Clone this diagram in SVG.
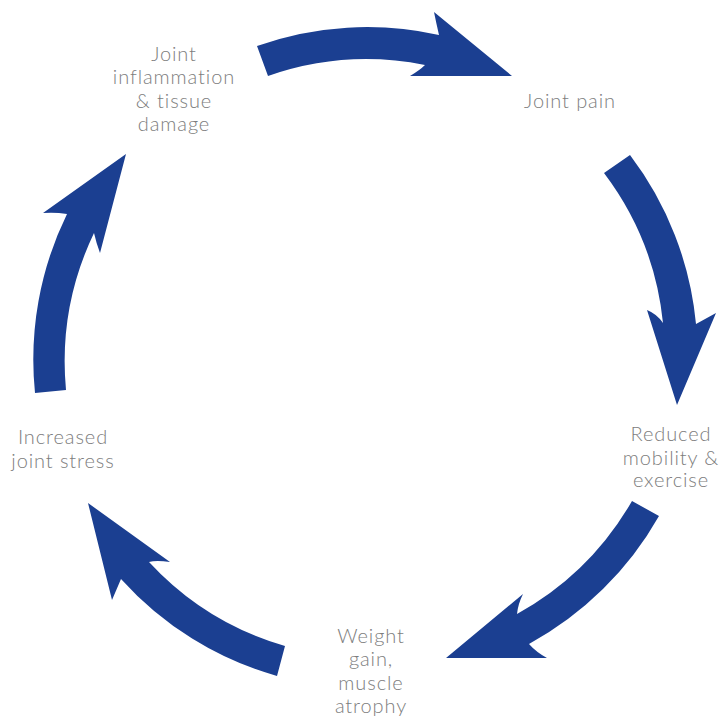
<svg xmlns="http://www.w3.org/2000/svg" width="719" height="717" viewBox="0 0 719 717">
<style>
.arr{fill:#1B3F91;stroke:none}
.lbl{font-family:Lato,"Open Sans","Liberation Sans",sans-serif;font-weight:300;font-size:20px;letter-spacing:0.9px;fill:#7d7d7d;text-anchor:middle}
</style>
<rect width="719" height="717" fill="#ffffff"/>
<g id="connectors">
<path class="arr" d="M257,46 A330,330 0 0,1 439,35 Q436,22 434,12 L512,76 L410,76 Q420,70 425,65 A298,298 0 0,0 268,76 Z"/>
<path class="arr" d="M630,155 A331,331 0 0,1 696,324 L716,313 L677,405 L647,310 Q657,314 663,323 A299,299 0 0,0 604,173 Z"/>
<path class="arr" d="M659,516 A332,332 0 0,1 529,644 Q536,652 547,658 L446,658 L523,594 Q518,604 517,614 A300,300 0 0,0 632,501 Z"/>
<path class="arr" d="M277,676 A330,330 0 0,1 121,579 L112,600 L88,503 L170,562 Q156,560 149,562 A298,298 0 0,0 285,646 Z"/>
<path class="arr" d="M35,393 A331,331 0 0,1 67,214 Q55,212 43,213 L126,154 L100,253 Q96,242 94,233 A299,299 0 0,0 66,390 Z"/>
</g>
<g id="node-inflammation"><text class="lbl" x="174" y="61">Joint</text><text class="lbl" x="174" y="84">inflammation</text><text class="lbl" x="174" y="108">&amp; tissue</text><text class="lbl" x="174" y="131">damage</text></g>
<g id="node-pain"><text class="lbl" x="570" y="108">Joint pain</text></g>
<g id="node-mobility"><text class="lbl" x="671" y="441">Reduced</text><text class="lbl" x="671" y="465">mobility &amp;</text><text class="lbl" x="671" y="487">exercise</text></g>
<g id="node-weight"><text class="lbl" x="371" y="643">Weight</text><text class="lbl" x="371" y="666">gain,</text><text class="lbl" x="371" y="690">muscle</text><text class="lbl" x="371" y="713">atrophy</text></g>
<g id="node-stress"><text class="lbl" x="63" y="444">Increased</text><text class="lbl" x="63" y="468">joint stress</text></g>
</svg>
